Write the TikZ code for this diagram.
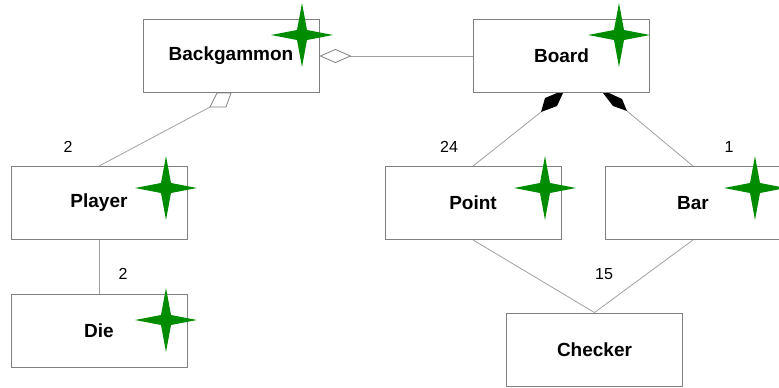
\documentclass[tikz,border=0pt]{standalone}
\usepackage{fontspec}
\setmainfont{Liberation Sans}
\usetikzlibrary{arrows.meta}
\definecolor{starGreen}{RGB}{0,140,0}
\definecolor{lineGray}{RGB}{160,160,160}
\definecolor{boxGray}{RGB}{128,128,128}
\tikzset{
  classbox/.style={draw=boxGray, line width=0.9pt, fill=white, minimum width=176pt,
    minimum height=73pt, inner sep=0pt, font=\fontsize{19}{21}\selectfont\bfseries},
  assoc/.style={draw=lineGray, line width=0.8pt},
  mult/.style={font=\fontsize{16}{18}\selectfont, inner sep=0pt},
  aggr/.tip={Diamond[open, length=32pt, width=14pt, color=boxGray, line width=0.8pt]},
  hollowdia/.style={draw=boxGray, fill=white, line width=0.8pt, line join=round},
  soliddia/.style={fill=black},
  sparkle/.pic={
    \fill[starGreen] (0,-32) -- (5,-5) -- (31,0) -- (5,5) -- (0,32) -- (-5,5) -- (-31,0) -- (-5,-5) -- cycle;
  }
}
\begin{document}
\begin{tikzpicture}[x=1pt, y=-1pt]
  \useasboundingbox (0,0) rectangle (779,388);
  \clip (0,0) rectangle (779,388);

  % classes
  \node[classbox] (bg)      at (231,56)  {Backgammon};
  \node[classbox] (board)   at (561.5,56) {Board};
  \node[classbox] (player)  at (99,203)  {Player};
  \node[classbox] (point)   at (473,203) {Point};
  \node[classbox] (bar)     at (693,203) {Bar};
  \node[classbox] (die)     at (99,331)  {Die};
  \node[classbox] (checker) at (594.5,349.5) {Checker};

  % diamond ends hanging under the whole classes
  \coordinate (bgtip) at (210,107);
  \coordinate (ptip)  at (541,112);
  \coordinate (btip)  at (627,111);

  % associations
  \draw[assoc, aggr-] (bg.east) -- (board.west);
  \draw[assoc] (bgtip) -- (player.north);
  \draw[assoc] (ptip) -- (point.north);
  \draw[assoc] (btip) -- (bar.north);
  \draw[assoc] (player.south) -- (die.north);
  \draw[assoc] (point.south) -- (checker.north);
  \draw[assoc] (bar.south) -- (checker.north);

  % aggregation and composition diamonds
  \draw[hollowdia] (217,93) -- (231,93) -- (226,107) -- (bgtip) -- cycle;
  \fill[soliddia] (557,93) -- (563,93) -- (557,106) -- (ptip) -- (545,98) -- cycle;
  \fill[soliddia] (603,93) -- (609,93) -- (622,99) -- (btip) -- (613,106) -- cycle;

  % multiplicities
  \node[mult] (m1) at (68,147)  {2};
  \node[mult] (m2) at (449,147) {24};
  \node[mult] (m3) at (729,147) {1};
  \node[mult] (m4) at (123,274) {2};
  \node[mult] (m5) at (604,274) {15};

  % markers
  \pic at (302,35)  {sparkle};
  \pic at (619,35)  {sparkle};
  \pic at (166,188) {sparkle};
  \pic at (545,188) {sparkle};
  \pic at (755,188) {sparkle};
  \pic at (166,320) {sparkle};
\end{tikzpicture}
\end{document}
